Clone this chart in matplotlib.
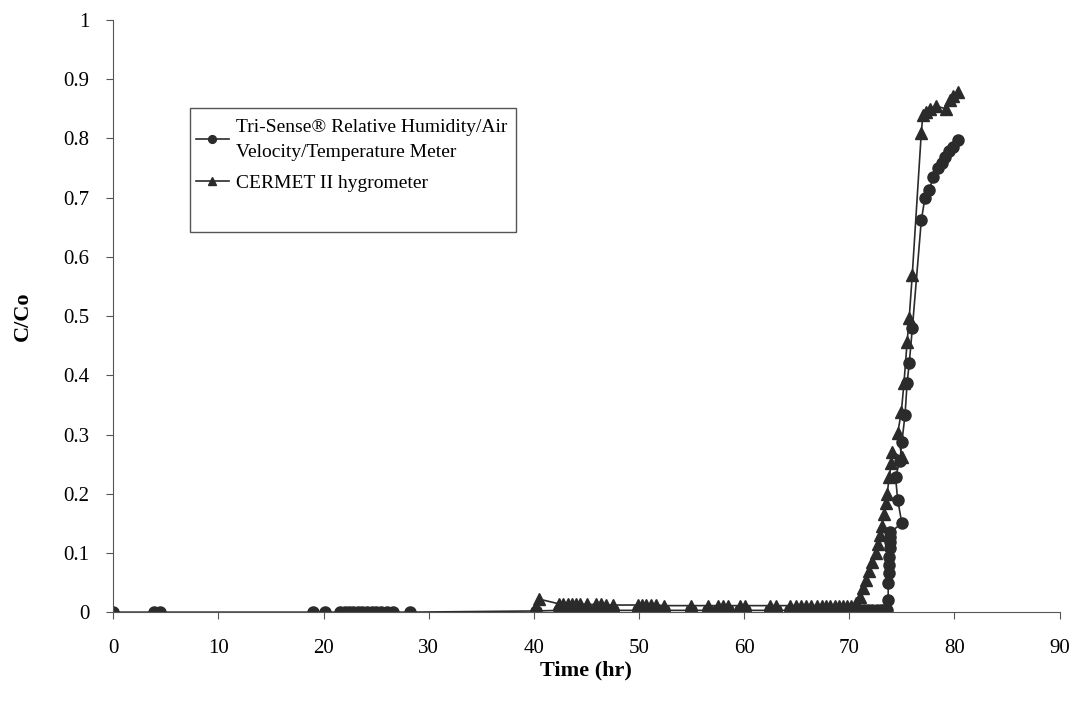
import matplotlib.pyplot as plt
from matplotlib.patches import Rectangle

plt.rcParams['font.family'] = ['Liberation Serif', 'DejaVu Serif']

# Tri-Sense (circles)
tri_t = [0, 3.9, 4.4, 19.0, 20.1, 21.6, 22.0, 22.4, 22.8, 23.3, 23.7, 24.1, 24.6,
         25.0, 25.5, 26.0, 26.6, 28.2, 40.2,
         42.4, 42.8, 43.2, 43.6, 44.0, 44.4, 45.1, 45.9, 46.4, 46.9, 47.5,
         49.9, 50.3, 50.7, 51.1, 51.6, 52.4, 54.9, 56.6, 57.5, 58.0, 58.5,
         59.6, 60.1, 62.5, 63.0, 64.4, 64.9, 65.4, 65.9, 66.4, 66.9, 67.4,
         67.8, 68.2, 68.6, 69.0, 69.4, 69.8, 70.2, 70.6, 71.0, 71.4, 71.8,
         72.2, 72.6, 73.0, 73.3, 73.6,
         73.7, 73.7, 73.75, 73.8, 73.8, 73.85, 73.85, 73.9, 73.9,
         75.0, 74.6, 74.4, 74.8, 75.0, 75.3, 75.5, 75.7, 76.0,
         76.85, 77.2, 77.6, 78.0, 78.4, 78.8, 79.1, 79.5, 79.9, 80.3]
tri_c = [0, 0, 0, 0, 0, 0, 0, 0, 0, 0, 0, 0, 0,
         0, 0, 0, 0, 0, 0.002,
         0.003, 0.003, 0.003, 0.003, 0.003, 0.003, 0.003, 0.003, 0.003, 0.003, 0.003,
         0.003, 0.003, 0.003, 0.003, 0.003, 0.003, 0.003, 0.003, 0.003, 0.003, 0.003,
         0.003, 0.003, 0.003, 0.003, 0.003, 0.003, 0.003, 0.003, 0.003, 0.003, 0.003,
         0.003, 0.003, 0.003, 0.003, 0.003, 0.003, 0.003, 0.003, 0.003, 0.003, 0.003,
         0.003, 0.003, 0.003, 0.003, 0.004,
         0.02, 0.049, 0.066, 0.079, 0.093, 0.108, 0.118, 0.127, 0.135,
         0.15, 0.19, 0.228, 0.255, 0.287, 0.333, 0.387, 0.42, 0.48,
         0.662, 0.70, 0.713, 0.735, 0.75, 0.758, 0.768, 0.778, 0.786, 0.797]

# CERMET II (triangles)
cer_t = [40.5,
         42.4, 42.8, 43.2, 43.6, 44.0, 44.4, 45.1, 45.9, 46.4, 46.9, 47.5,
         49.9, 50.3, 50.7, 51.1, 51.6, 52.4, 54.9, 56.6, 57.5, 58.0, 58.5,
         59.6, 60.1, 62.5, 63.0, 64.4, 64.9, 65.4, 65.9, 66.4, 66.9, 67.4,
         67.8, 68.2, 68.6, 69.0, 69.4, 69.8, 70.2,
         70.6, 71.0, 71.3, 71.6, 71.9, 72.2, 72.5, 72.7, 72.9, 73.1, 73.3,
         73.5, 73.6, 73.8, 74.0, 74.1, 75.0, 74.6, 74.95, 75.2, 75.5, 75.7,
         75.99, 76.85, 77.0, 77.3, 77.7, 78.2, 79.2, 79.6, 79.9, 80.3]
cer_c = [0.022,
         0.014, 0.014, 0.014, 0.013, 0.013, 0.013, 0.013, 0.013, 0.013, 0.012, 0.012,
         0.012, 0.012, 0.012, 0.012, 0.012, 0.011, 0.011, 0.011, 0.011, 0.011, 0.011,
         0.011, 0.011, 0.011, 0.011, 0.011, 0.011, 0.011, 0.011, 0.011, 0.011, 0.011,
         0.011, 0.011, 0.011, 0.011, 0.011, 0.011, 0.011,
         0.015, 0.025, 0.04, 0.055, 0.07, 0.085, 0.1, 0.115, 0.13, 0.145, 0.165,
         0.184, 0.2, 0.228, 0.252, 0.27, 0.262, 0.302, 0.338, 0.387, 0.456, 0.497,
         0.57, 0.81, 0.84, 0.845, 0.85, 0.855, 0.85, 0.865, 0.872, 0.878]

fig = plt.figure(figsize=(10.79, 7.02), dpi=100)
ax = fig.add_axes([0.105, 0.128, 0.877, 0.8435])

col = '#2b2b2b'
ax.plot(tri_t, tri_c, color=col, lw=1.2, marker='o', ms=8,
        label='Tri-Sense\u00ae Relative Humidity/Air\nVelocity/Temperature Meter')
ax.plot(cer_t, cer_c, color=col, lw=1.2, marker='^', ms=8,
        label='CERMET II hygrometer')

ax.set_xlim(0, 90)
ax.set_ylim(0, 1)
ax.set_xticks(range(0, 91, 10))
ax.set_yticks([0, 0.1, 0.2, 0.3, 0.4, 0.5, 0.6, 0.7, 0.8, 0.9, 1])
ax.set_yticklabels(['0', '0.1', '0.2', '0.3', '0.4', '0.5', '0.6', '0.7', '0.8', '0.9', '1'])
ax.tick_params(labelsize=15, length=5, color='#555555')
ax.tick_params(axis='x', pad=14)
ax.tick_params(axis='y', pad=12)
ax.spines['top'].set_visible(False)
ax.spines['right'].set_visible(False)
ax.spines['left'].set_color('#555555')
ax.spines['bottom'].set_color('#555555')
ax.set_xlabel('Time (hr)', fontsize=16, fontweight='bold', labelpad=2)
ax.set_ylabel('C/Co', fontsize=16, fontweight='bold', labelpad=22)

ax.add_patch(Rectangle((0.081, 0.642), 0.345, 0.209, transform=ax.transAxes,
                       fill=False, edgecolor='#555555', lw=1, clip_on=False))
leg = ax.legend(loc='upper left', bbox_to_anchor=(0.081, 0.843), frameon=False,
                fontsize=14, handlelength=1.7, handletextpad=0.35, labelspacing=0.7,
                borderpad=0.3, borderaxespad=0, markerscale=0.7)
for t in leg.get_texts():
    t.set_linespacing(1.6)

fig.savefig('out.png', dpi=100)
